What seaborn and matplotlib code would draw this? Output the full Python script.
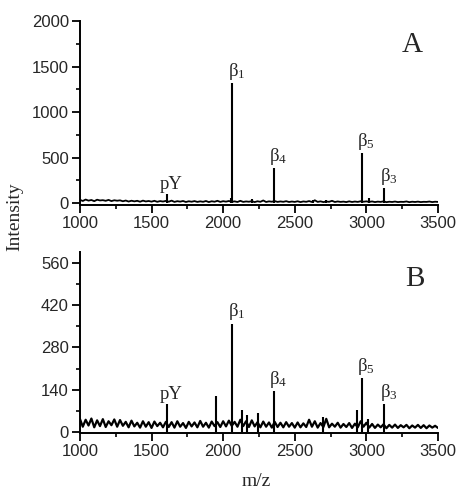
import matplotlib
matplotlib.use("Agg")
import matplotlib.pyplot as plt
from matplotlib.ticker import MultipleLocator
import numpy as np
import seaborn as sns

# m/z grid for the noisy baseline (step 20)
mz = np.arange(1000, 3501, 20)

noise_a = [35, 22, 38, 26, 33, 20, 36, 28, 31, 24, 34, 21, 30, 25, 29, 19,
           27, 16, 25, 18, 24, 14, 26, 17, 22, 15, 24, 13, 21, 16, 23,
           14, 26, 12, 20, 15, 22, 11, 19, 14, 21, 12, 18, 13, 22, 10, 19, 14, 24, 12, 20,
           15, 22, 13, 18, 11, 24, 12, 17, 14, 20, 10, 19, 13, 28, 11, 18, 14, 21, 12, 17, 13, 20, 11, 16, 12,
           19, 10, 17, 13, 21, 11, 30, 12, 18, 10, 16, 13, 24, 11, 17, 12, 15, 10, 18, 11, 16, 12, 19, 14, 18,
           12, 17, 10, 15, 12, 18, 9, 14, 11, 16, 10, 13, 12, 17, 9, 14, 11, 15, 10, 13, 12, 16, 10, 14, 12]

noise_b = [44, 18, 41, 22, 45, 16, 39, 20, 43, 17, 36, 23, 42, 18, 40, 21,
           34, 16, 38, 19, 31, 15, 36, 18, 33, 14, 35, 20, 31, 16, 34,
           17, 33, 15, 36, 18, 30, 14, 34, 19, 32, 16, 37, 18, 31, 15, 35, 20, 33, 17, 36,
           19, 38, 21, 34, 18, 41, 20, 36, 17, 39, 19, 33, 16, 35, 18, 32, 15, 34, 17, 31, 16, 33, 18, 30, 15,
           32, 16, 29, 17, 41, 18, 36, 15, 30, 17, 44, 16, 28, 18, 31, 15, 27, 17, 30, 14, 28, 16, 36, 18, 31,
           15, 27, 14, 25, 16, 26, 13, 24, 15, 25, 14, 23, 16, 24, 13, 22, 15, 24, 14, 23, 13, 22, 15, 21, 14]

# peaks (m/z, intensity)
peaks_a_mz = [1605, 2055, 2065, 2200, 2355, 2630, 2720, 2968, 3015, 3125]
peaks_a_int = [100, 60, 1315, 40, 380, 35, 35, 545, 50, 165]

peaks_b_mz = [1605, 1952, 2065, 2135, 2170, 2240, 2352, 2695, 2935, 2967, 3010, 3125]
peaks_b_int = [92, 118, 358, 73, 56, 63, 136, 50, 73, 178, 42, 93]

# labelled peaks
label_text = ["pY", r"$\mathrm{\beta}_1$", r"$\mathrm{\beta}_4$", r"$\mathrm{\beta}_5$", r"$\mathrm{\beta}_3$"]
label_mz_a = [1605, 2065, 2355, 2968, 3125]
label_int_a = [100, 1315, 380, 545, 165]
label_mz_b = [1605, 2065, 2352, 2967, 3125]
label_int_b = [92, 358, 136, 178, 93]

sns.set_style("ticks")
plt.rcParams["font.family"] = ["Liberation Sans", "DejaVu Sans"]
plt.rcParams["mathtext.fontset"] = "custom"
plt.rcParams["mathtext.rm"] = "Liberation Serif"
plt.rcParams["mathtext.it"] = "Liberation Serif:italic"

fig = plt.figure(figsize=(4.62, 4.91), dpi=100)
ax_a = fig.add_axes([0.173, 0.5825, 0.775, 0.3745])
ax_b = fig.add_axes([0.173, 0.118, 0.775, 0.369])


def draw_panel(ax, noise, pk_mz, pk_int, lab_mz, lab_int, ylim, major, letter, lx, ly, lw):
    sns.lineplot(x=mz, y=noise, ax=ax, color="black", linewidth=lw)
    ax.vlines(pk_mz, 0, pk_int, color="black", linewidth=1.5)
    for t, x, y in zip(label_text, lab_mz, lab_int):
        ax.annotate(t, (x, y), xytext=(3, 1), textcoords="offset points",
                    ha="center", va="bottom", fontsize=13.5, family="Liberation Serif")
    ax.set_xlim(1000, 3500)
    ax.set_ylim(*ylim)
    ax.xaxis.set_major_locator(MultipleLocator(500))
    ax.xaxis.set_minor_locator(MultipleLocator(250))
    ax.yaxis.set_major_locator(MultipleLocator(major))
    ax.yaxis.set_minor_locator(MultipleLocator(major / 2))
    ax.tick_params(which="major", direction="out", length=6, width=1.3, labelsize=12, pad=2, color="black")
    ax.tick_params(which="minor", direction="out", length=3, width=1.2, color="black")
    for s in ["left", "bottom"]:
        ax.spines[s].set_linewidth(1.4)
        ax.spines[s].set_color("black")
    sns.despine(ax=ax)
    ax.set_xlabel("")
    ax.set_ylabel("")
    ax.text(lx, ly, letter, transform=ax.transAxes, ha="center", va="center",
            fontsize=21, family="Liberation Serif")


draw_panel(ax_a, noise_a, peaks_a_mz, peaks_a_int, label_mz_a, label_int_a,
           (-22, 2000), 500, "A", 0.927, 0.87, 1.3)
draw_panel(ax_b, noise_b, peaks_b_mz, peaks_b_int, label_mz_b, label_int_b,
           (-3, 596), 140, "B", 0.936, 0.85, 1.6)

fig.text(15 / 462, 1 - 217 / 491, "Intensity", rotation=90, ha="center", va="center",
         fontsize=14, family="Liberation Serif")
fig.text(256 / 462, 1 - 481 / 491, "m/z", ha="center", va="center",
         fontsize=14, family="Liberation Serif")

fig.savefig("out.png", dpi=100)
